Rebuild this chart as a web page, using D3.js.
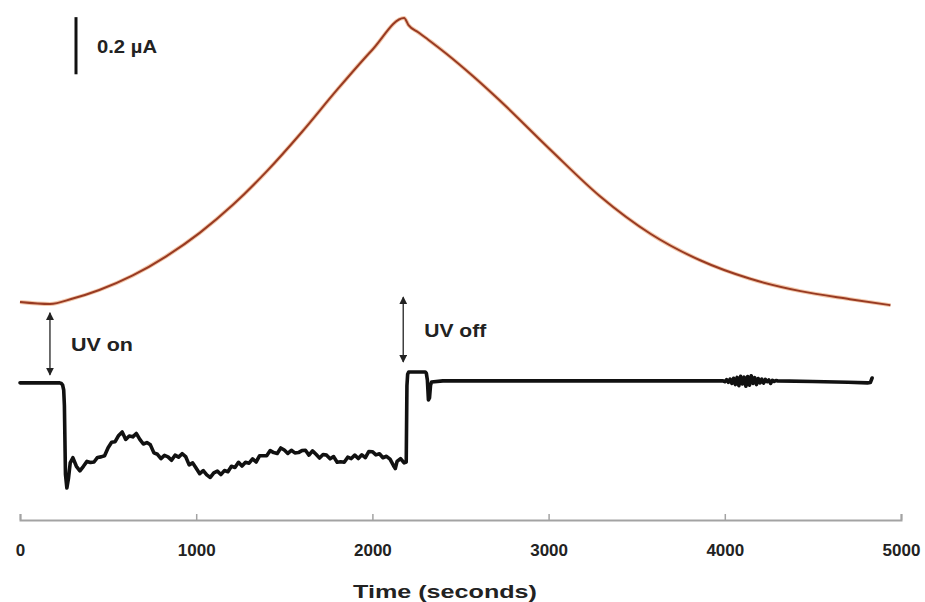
<!DOCTYPE html>
<html>
<head>
<meta charset="utf-8">
<script src="https://cdn.jsdelivr.net/npm/d3@7"></script>
<style>
body { margin: 0; background: #fff; }
#visual { width: 925px; height: 602px; }
text { font-family: "Liberation Sans", Arial, sans-serif; font-weight: bold; fill: #222; }
</style>
</head>
<body>
<div id="visual"></div>
<script>
// upper trace (brown), time in seconds, current in nA
var topTime = [0, 170, 300, 450, 640, 830, 1020, 1210, 1400, 1600, 1800, 2000, 2180, 2205, 2260, 2330, 2420, 2570, 2720, 3010, 3290, 3580, 3860, 4140, 4430, 4710, 4940];
var topCurrent = [763, 756, 775, 805, 856, 923, 1005, 1104, 1220, 1358, 1506, 1646, 1757, 1732, 1707, 1675, 1632, 1554, 1470, 1296, 1134, 1001, 909, 845, 801, 773, 752];

// lower trace (black), same units
var lowTime = [0, 225, 235, 242, 248, 252, 258, 266, 275, 285, 300, 320, 340, 360, 380, 400, 420, 440, 460, 480,
    500, 520, 540, 560, 580, 600, 620, 640, 660, 680, 700, 720, 740, 760, 780, 800, 820, 840, 860, 880,
    900, 920, 940, 960, 980, 1000, 1020, 1040, 1060, 1080, 1100, 1120, 1140, 1160, 1180, 1200, 1220, 1240, 1260, 1280,
    1300, 1320, 1340, 1360, 1380, 1400, 1420, 1440, 1460, 1480, 1500, 1520, 1540, 1560, 1580, 1600, 1620, 1640, 1660, 1680,
    1700, 1720, 1740, 1760, 1780, 1800, 1820, 1840, 1860, 1880, 1900, 1920, 1940, 1960, 1980, 2000, 2020, 2040, 2060, 2080,
    2100, 2120, 2130, 2140, 2160, 2180, 2192, 2196, 2200, 2206, 2300, 2306, 2312, 2318, 2324, 2330, 2336, 2400,
    3990, 4000, 4010, 4020, 4030, 4040, 4050, 4060, 4070, 4080, 4090, 4100, 4110, 4120, 4130, 4140, 4150, 4160, 4170, 4180,
    4190, 4200, 4210, 4220, 4230, 4240, 4250, 4260, 4270, 4280, 4290, 4300, 4500, 4700, 4810, 4826, 4836];
var lowCurrent = [480, 480, 478, 472, 455, 400, 160, 112, 145, 200, 218, 188, 172, 188, 205, 201, 203, 219, 221, 225,
    253, 272, 274, 296, 308, 282, 294, 291, 303, 282, 266, 271, 263, 235, 230, 215, 226, 221, 209, 227,
    220, 232, 222, 193, 200, 181, 162, 173, 158, 149, 165, 171, 159, 173, 169, 188, 184, 202, 189, 202,
    199, 214, 203, 225, 225, 225, 243, 236, 233, 252, 245, 233, 244, 235, 236, 243, 244, 227, 242, 230,
    217, 229, 227, 214, 222, 202, 204, 202, 220, 215, 227, 215, 228, 218, 240, 239, 228, 232, 218, 223,
    213, 190, 180, 205, 215, 200, 203, 470, 510, 518, 518, 514, 490, 420, 427, 472, 483, 487,
    487, 484, 491, 482, 493, 478, 496, 474, 499, 470, 503, 476, 500, 468, 502, 472, 505, 478, 498, 474,
    495, 480, 493, 479, 492, 484, 490, 478, 489, 485, 488, 487, 485, 482, 480, 481, 497];

var xTicks = [0, 1000, 2000, 3000, 4000, 5000];

// UV markers: time, arrow from/to in nA
var eventLabels = ['UV on', 'UV off'];
var eventTime = [170, 2175];
var eventTop = [725, 780];
var eventBottom = [508, 553];

// scale bar, nA
var barStart = 1560;
var barSize = 200;
var barLabel = '0.2 µA';

var width = 925, height = 602;

var svg = d3.select('#visual')
    .append('svg')
    .attr('width', width)
    .attr('height', height);

var x_scale = d3.scaleLinear()
    .domain([0, 5000])
    .range([20, 901]);

var y_scale = d3.scaleLinear()
    .domain([0, 1750])
    .range([520, 20]);

var defs = svg.append('defs');
defs.append('marker')
    .attr('id', 'head')
    .attr('viewBox', '0 0 10 10')
    .attr('refX', 9).attr('refY', 5)
    .attr('markerWidth', 8).attr('markerHeight', 8)
    .attr('markerUnits', 'userSpaceOnUse')
    .attr('orient', 'auto-start-reverse')
    .append('path')
    .attr('d', 'M0,0L10,5L0,10z')
    .attr('fill', '#222');

// x axis with small upward ticks
var x_axis = d3.axisBottom(x_scale)
    .tickValues(xTicks)
    .tickFormat(d3.format('d'))
    .tickSizeInner(-6)
    .tickSizeOuter(-6)
    .tickPadding(24);

var gx = svg.append('g')
    .attr('class', 'x axis')
    .attr('transform', 'translate(0,520)')
    .call(x_axis);
gx.attr('font-family', null).attr('font-size', null);
gx.select('.domain').attr('stroke', '#a3a3a3').attr('stroke-width', 2);
gx.selectAll('.tick line').attr('stroke', '#a3a3a3').attr('stroke-width', 1.5);
gx.selectAll('.tick text').attr('fill', '#222').style('font-size', '17px');

svg.append('text')
    .attr('x', 445)
    .attr('y', 598)
    .attr('text-anchor', 'middle')
    .attr('textLength', 184)
    .attr('lengthAdjust', 'spacingAndGlyphs')
    .style('font-size', '18px')
    .text('Time (seconds)');

var topLine = d3.line()
    .x(function (d, i) { return x_scale(topTime[i]); })
    .y(function (d) { return y_scale(d); })
    .curve(d3.curveMonotoneX);

svg.append('path')
    .datum(topCurrent)
    .attr('d', topLine)
    .attr('fill', 'none')
    .attr('stroke', '#eaa070')
    .attr('stroke-opacity', 0.6)
    .attr('stroke-width', 4);

svg.append('path')
    .datum(topCurrent)
    .attr('d', topLine)
    .attr('fill', 'none')
    .attr('stroke', '#983a22')
    .attr('stroke-width', 2);

var lowLine = d3.line()
    .x(function (d, i) { return x_scale(lowTime[i]); })
    .y(function (d) { return y_scale(d); });

svg.append('path')
    .datum(lowCurrent)
    .attr('d', lowLine)
    .attr('fill', 'none')
    .attr('stroke', '#111')
    .attr('stroke-width', 3.6)
    .attr('stroke-linejoin', 'round')
    .attr('stroke-linecap', 'round');

// UV arrows
var ev = svg.selectAll('.event')
    .data(eventLabels)
    .enter().append('g')
    .attr('class', 'event');

ev.append('line')
    .attr('x1', function (d, i) { return x_scale(eventTime[i]); })
    .attr('x2', function (d, i) { return x_scale(eventTime[i]); })
    .attr('y1', function (d, i) { return y_scale(eventTop[i]); })
    .attr('y2', function (d, i) { return y_scale(eventBottom[i]); })
    .attr('stroke', '#333')
    .attr('stroke-width', 1.4)
    .attr('marker-start', 'url(#head)')
    .attr('marker-end', 'url(#head)');

ev.append('text')
    .attr('x', function (d, i) { return x_scale(eventTime[i]) + 21; })
    .attr('y', function (d, i) { return (y_scale(eventTop[i]) + y_scale(eventBottom[i])) / 2 + 7; })
    .attr('textLength', 62)
    .attr('lengthAdjust', 'spacingAndGlyphs')
    .style('font-size', '18px')
    .text(function (d) { return d; });

// 0.2 uA scale bar
svg.append('line')
    .attr('x1', 76).attr('x2', 76)
    .attr('y1', y_scale(barStart))
    .attr('y2', y_scale(barStart + barSize))
    .attr('stroke', '#111')
    .attr('stroke-width', 3);

svg.append('text')
    .attr('x', 97)
    .attr('y', (y_scale(barStart) + y_scale(barStart + barSize)) / 2 + 7)
    .attr('textLength', 60)
    .attr('lengthAdjust', 'spacingAndGlyphs')
    .style('font-size', '18px')
    .text(barLabel);
</script>
</body>
</html>
